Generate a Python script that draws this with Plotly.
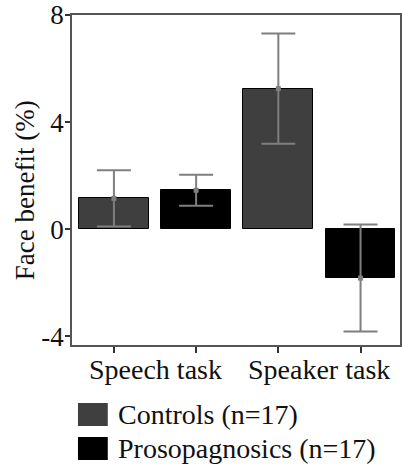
import plotly.graph_objects as go

tasks = ["Speech task", "Speaker task"]
groups = ["Controls (n=17)", "Prosopagnosics (n=17)"]
controls_mean = [1.15, 5.25]
controls_err = [1.05, 2.06]
proso_mean = [1.45, -1.83]
proso_err = [0.58, 2.0]
colors = ["#3f3f3f", "#000000"]
y_title = "Face benefit (%)"

W, H = 402, 464
L, R, T, B = 72, 0, 15, 119
pw, ph = W - L - R, H - T - B

def px(x):
    return (x - L) / pw

def py(y):
    return (H - B - y) / ph

fig = go.Figure()
series = [(controls_mean, controls_err), (proso_mean, proso_err)]
for gi, (means, errs) in enumerate(series):
    xs = [1 + gi, 3 + gi]
    fig.add_trace(go.Bar(
        x=xs, y=means, width=0.85, name=groups[gi],
        marker=dict(color=colors[gi], line=dict(color="#000", width=1)),
        error_y=dict(type="data", array=errs, color="#7f7f7f", thickness=2, width=17),
        showlegend=False,
    ))
    fig.add_trace(go.Scatter(
        x=xs, y=means, mode="markers",
        marker=dict(symbol="square", size=5, color="#7f7f7f"),
        showlegend=False, hoverinfo="skip",
    ))

serif = "Liberation Serif"
fig.update_layout(
    width=W, height=H, margin=dict(l=L, r=R, t=T, b=B),
    paper_bgcolor="white", plot_bgcolor="white",
    font=dict(family=serif, size=28, color="#111111"),
    bargap=0,
    xaxis=dict(range=[0.49, 4.48], tickvals=[1, 2, 3, 4], ticktext=["", "", "", ""],
               ticks="outside", ticklen=6, tickcolor="#333", tickwidth=2,
               showline=True, linecolor="#555", linewidth=1.5, mirror=True,
               showgrid=False, zeroline=False),
    yaxis=dict(range=[-4.33, 8], tickvals=[-4, 0, 4, 8], ticktext=["-4", "0", "4", "8"],
               ticks="outside", ticklen=5, tickcolor="#333", tickwidth=2,
               ticklabelstandoff=-4,
               showline=True, linecolor="#555", linewidth=1.5, mirror=True,
               showgrid=False, zeroline=False,
               tickfont=dict(size=27, color="#111111")),
)

anns = [dict(x=px(25), y=py(190), xref="paper", yref="paper", text=y_title,
             textangle=-90, showarrow=False, xanchor="center", yanchor="middle",
             font=dict(size=27, family=serif, color="#111111"))]
for i, t in enumerate(tasks):
    anns.append(dict(x=1.5 + 2 * i, y=py(369), xref="x", yref="paper", text=t,
                     showarrow=False, font=dict(size=28, family=serif), yanchor="middle"))
shapes = []
leg_y = [(403, 426), (437, 460)]
for gi, g in enumerate(groups):
    y0, y1 = leg_y[gi]
    shapes.append(dict(type="rect", xref="paper", yref="paper",
                       x0=px(78), x1=px(108), y0=py(y1), y1=py(y0),
                       fillcolor=colors[gi], line=dict(width=0)))
    anns.append(dict(x=px(116), y=py((y0 + y1) / 2), xref="paper", yref="paper", text=g,
                     showarrow=False, xanchor="left", yanchor="middle",
                     font=dict(size=28, family=serif)))
fig.update_layout(annotations=anns, shapes=shapes)

fig.write_html("out.html", config={"displayModeBar": False},
               post_script="document.body.style.margin='0';document.body.style.overflow='hidden';")
